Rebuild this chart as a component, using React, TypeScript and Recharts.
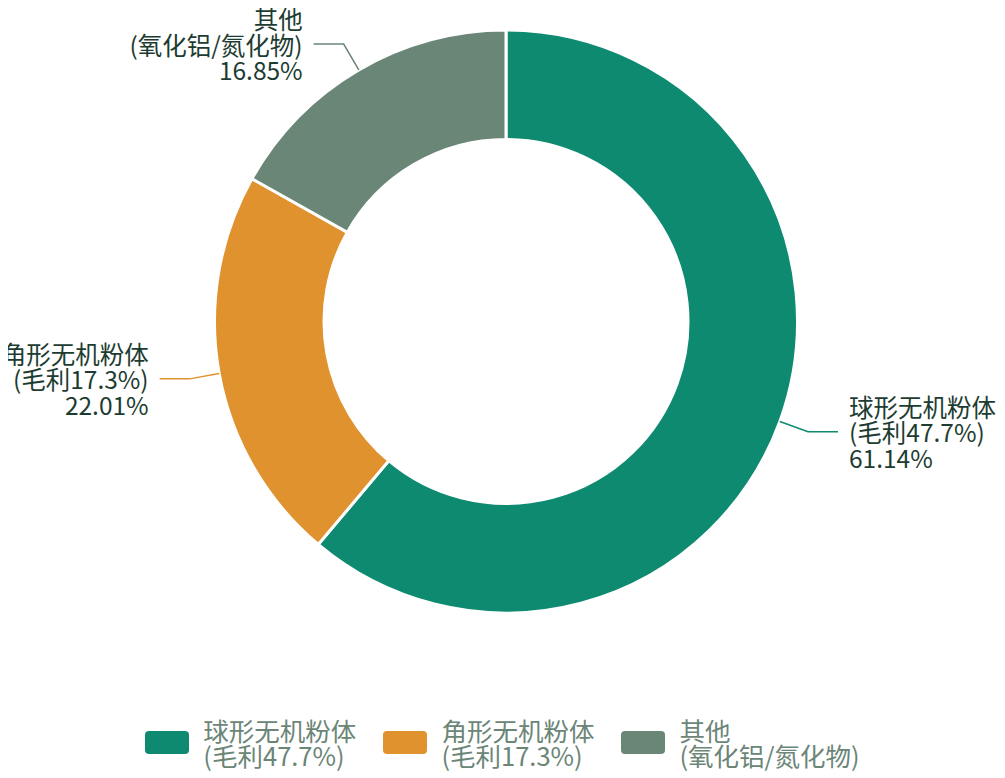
import React from 'react';
import { PieChart, Pie, Cell, Legend } from 'recharts';

const nameLine1 = ['球形无机粉体', '角形无机粉体', '其他'];
const nameLine2 = ['(毛利47.7%)', '(毛利17.3%)', '(氧化铝/氮化物)'];
const shares = [61.14, 22.01, 16.85];
const colors = ['#0e8a71', '#e0922f', '#6a8677'];

const data = shares.map((value, i) => ({ name: `${nameLine1[i]}${nameLine2[i]}`, value }));

const RADIAN = Math.PI / 180;
const FONT = '"Noto Sans CJK SC", "Noto Sans", sans-serif';

const renderLabel = (props: any) => {
  const { cx, cy, midAngle, outerRadius, index } = props;
  const cos = Math.cos(-midAngle * RADIAN);
  const sin = Math.sin(-midAngle * RADIAN);
  const sx = cx + outerRadius * cos;
  const sy = cy + outerRadius * sin;
  const mx = cx + (outerRadius + 30) * cos;
  const my = cy + (outerRadius + 30) * sin;
  const right = cos >= 0;
  const ex = mx + (right ? 30 : -30);
  const tx = ex + (right ? 11 : -11);
  const lines = [nameLine1[index], nameLine2[index], `${shares[index].toFixed(2)}%`];
  return (
    <g>
      <path
        d={`M${sx},${sy}L${mx},${my}L${ex},${my}`}
        stroke={colors[index]}
        strokeWidth={1.5}
        fill="none"
      />
      <text
        x={tx}
        y={my}
        textAnchor={right ? 'start' : 'end'}
        fill="#1d3c31"
        style={{ fontFamily: FONT, fontSize: 24.5 }}
      >
        {lines.map((t, i) => (
          <tspan key={i} x={tx} y={my + (i - 1) * 25.5} dominantBaseline="central">
            {t}
          </tspan>
        ))}
      </text>
    </g>
  );
};

const renderLegend = () => (
  <div
    style={{
      display: 'flex',
      justifyContent: 'center',
      alignItems: 'center',
      gap: 27,
      fontFamily: FONT,
      fontSize: 25.5,
      lineHeight: '25px',
      color: '#6b8577',
    }}
  >
    {nameLine1.map((n, i) => (
      <div key={n} style={{ display: 'flex', alignItems: 'center' }}>
        <div
          style={{
            width: 44,
            height: 23,
            borderRadius: 4,
            background: colors[i],
            marginRight: 14,
          }}
        />
        <div>
          <div>{n}</div>
          <div>{nameLine2[i]}</div>
        </div>
      </div>
    ))}
  </div>
);

export default function App() {
  return (
    <PieChart width={989} height={770} margin={{ top: 0, right: 0, bottom: 0, left: 0 }}>
      <Pie
        data={data}
        dataKey="value"
        nameKey="name"
        cx={498}
        cy={313.5}
        innerRadius={182}
        outerRadius={291.5}
        startAngle={90}
        endAngle={-270}
        stroke="#ffffff"
        strokeWidth={3}
        label={renderLabel}
        labelLine={false}
        isAnimationActive={false}
      >
        {data.map((d, i) => (
          <Cell key={d.name} fill={colors[i]} />
        ))}
      </Pie>
      <Legend
        content={renderLegend}
        wrapperStyle={{ top: 709, left: 0, width: 989, bottom: 'auto' }}
      />
    </PieChart>
  );
}
